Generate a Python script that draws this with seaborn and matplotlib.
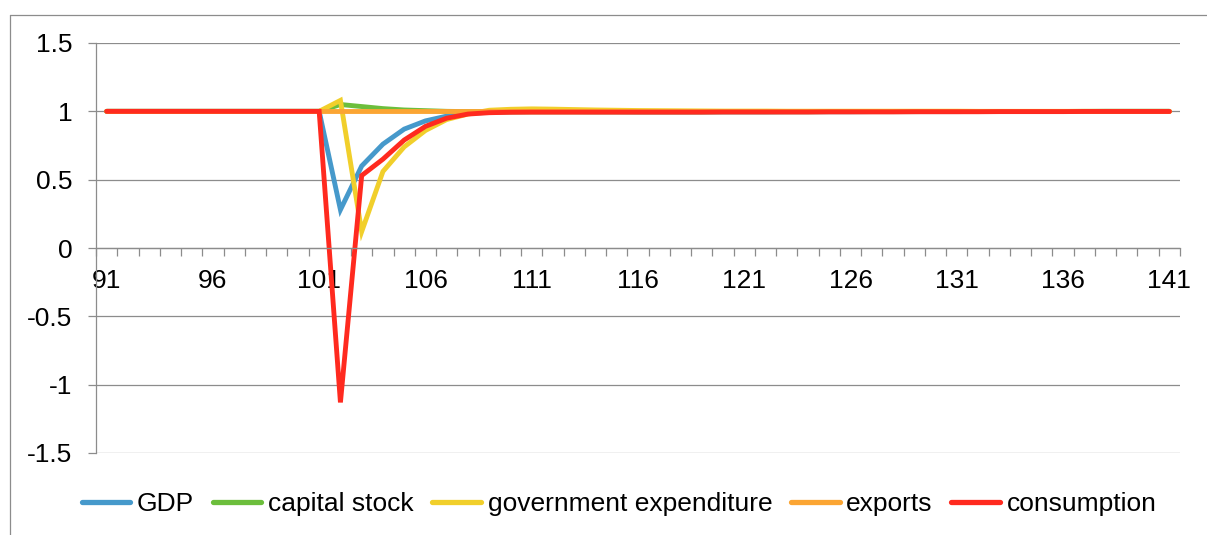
import pandas as pd
import matplotlib
matplotlib.use("Agg")
import matplotlib.pyplot as plt
import seaborn as sns
from matplotlib.lines import Line2D
from matplotlib.ticker import FixedLocator, FuncFormatter

# periods on the category axis
periods = list(range(91, 142))

gdp = [1.0, 1.0, 1.0, 1.0, 1.0, 1.0, 1.0, 1.0, 1.0, 1.0, 1.0,
       0.28, 0.60, 0.76, 0.87, 0.93, 0.965, 0.985, 0.993, 0.997, 0.998,
       0.998, 0.998, 0.997, 0.997, 0.996, 0.996, 0.996, 0.996, 0.996, 0.996,
       0.996, 0.997, 0.997, 0.997, 0.997, 0.998, 0.998, 0.998, 0.998, 0.998,
       0.999, 0.999, 0.999, 0.999, 0.999, 0.999, 1.0, 1.0, 1.0, 1.0]

capital_stock = [1.0, 1.0, 1.0, 1.0, 1.0, 1.0, 1.0, 1.0, 1.0, 1.0, 1.0,
                 1.05, 1.035, 1.02, 1.01, 1.005, 1.0, 0.998, 0.997, 0.996, 0.996,
                 0.996, 0.996, 0.996, 0.996, 0.996, 0.996, 0.996, 0.996, 0.997, 0.997,
                 0.997, 0.997, 0.997, 0.998, 0.998, 0.998, 0.998, 0.998, 0.999, 0.999,
                 0.999, 0.999, 0.999, 0.999, 0.999, 1.0, 1.0, 1.0, 1.0, 1.0]

gov_expenditure = [1.0, 1.0, 1.0, 1.0, 1.0, 1.0, 1.0, 1.0, 1.0, 1.0, 1.0,
                   1.08, 0.12, 0.56, 0.74, 0.86, 0.94, 0.98, 1.008, 1.015, 1.018,
                   1.016, 1.013, 1.01, 1.008, 1.006, 1.005, 1.004, 1.003, 1.002, 1.002,
                   1.002, 1.001, 1.001, 1.001, 1.001, 1.001, 1.001, 1.001, 1.001, 1.001,
                   1.0, 1.0, 1.0, 1.0, 1.0, 1.0, 1.0, 1.0, 1.0, 1.0]

exports = [1.0, 1.0, 1.0, 1.0, 1.0, 1.0, 1.0, 1.0, 1.0, 1.0, 1.0,
           1.0, 1.0, 1.0, 1.0, 1.0, 1.0, 1.0, 1.0, 1.0, 1.0,
           1.0, 1.0, 1.0, 1.0, 1.0, 1.0, 1.0, 1.0, 1.0, 1.0,
           1.0, 1.0, 1.0, 1.0, 1.0, 1.0, 1.0, 1.0, 1.0, 1.0,
           1.0, 1.0, 1.0, 1.0, 1.0, 1.0, 1.0, 1.0, 1.0, 1.0]

consumption = [1.0, 1.0, 1.0, 1.0, 1.0, 1.0, 1.0, 1.0, 1.0, 1.0, 1.0,
               -1.13, 0.53, 0.65, 0.79, 0.89, 0.95, 0.98, 0.99, 0.993, 0.994,
               0.994, 0.994, 0.994, 0.994, 0.994, 0.994, 0.994, 0.994, 0.995, 0.995,
               0.995, 0.995, 0.995, 0.996, 0.996, 0.996, 0.996, 0.997, 0.997, 0.997,
               0.997, 0.998, 0.998, 0.998, 0.998, 0.999, 0.999, 0.999, 0.999, 0.999]

y_ticks = [-1.5, -1, -0.5, 0, 0.5, 1, 1.5]

series_names = ["GDP", "capital stock", "government expenditure", "exports", "consumption"]
colors = ["#4699CB", "#6CBE3C", "#F1CF2B", "#FBA533", "#FF2A1F"]

frames = []
for name, vals in zip(series_names, [gdp, capital_stock, gov_expenditure, exports, consumption]):
    frames.append(pd.DataFrame({"period": periods, "value": vals, "series": name}))
df = pd.concat(frames, ignore_index=True)

sns.set_theme(style="white")
plt.rcParams["font.family"] = ["Liberation Sans", "DejaVu Sans"]

fig = plt.figure(figsize=(12.07, 5.35), dpi=100)
ax = fig.add_axes([96 / 1207, 1 - 453 / 535, (1180 - 96) / 1207, (453 - 43) / 535])

sns.lineplot(data=df, x="period", y="value", hue="series", hue_order=series_names,
             palette=colors, linewidth=3.5, ax=ax, legend=False,
             solid_capstyle="round", solid_joinstyle="miter")

grid_col = "#8C8C8C"
ax.set_xlim(90.5, 141.5)
ax.set_ylim(-1.5, 1.5)
ax.yaxis.set_major_locator(FixedLocator(y_ticks))
ax.yaxis.set_major_formatter(FuncFormatter(lambda v, pos: "%g" % v))
ax.grid(axis="y", color=grid_col, linewidth=0.9)
ax.grid(axis="x", visible=False)
ax.set_axisbelow(True)

for s in ["top", "right"]:
    ax.spines[s].set_visible(False)
ax.spines["left"].set_color(grid_col)
ax.spines["left"].set_linewidth(0.9)
ax.spines["bottom"].set_position(("data", 0))
ax.spines["bottom"].set_color(grid_col)
ax.spines["bottom"].set_linewidth(0.9)

ax.set_xticks(periods[::5])
ax.set_xticklabels([str(p) for p in periods[::5]])
ax.set_xticks([p - 0.5 for p in periods] + [141.5], minor=True)
ax.tick_params(axis="x", which="major", length=0, pad=15, labelsize=19, labelcolor="black")
ax.tick_params(axis="x", which="minor", direction="out", length=6, width=0.9,
               color=grid_col, bottom=True)
ax.tick_params(axis="y", which="major", direction="out", length=6, width=0.9,
               color=grid_col, left=True, pad=11, labelsize=19, labelcolor="black")
ax.set_xlabel("")
ax.set_ylabel("")

# legend at the bottom
handles = [Line2D([0], [0], color=c, linewidth=3.8, solid_capstyle="round") for c in colors]
fig.legend(handles, series_names, loc="center", bbox_to_anchor=(619 / 1207, 1 - 504 / 535),
           ncol=5, frameon=False, fontsize=19, handlelength=1.85, handletextpad=0.25,
           columnspacing=0.7, borderpad=0, labelcolor="black")

# chart area border (Excel style)
fig.add_artist(Line2D([10 / 1207, 10 / 1207], [1 - 15 / 535, 0], transform=fig.transFigure,
                      color=grid_col, linewidth=0.9))
fig.add_artist(Line2D([10 / 1207, 1], [1 - 15 / 535, 1 - 15 / 535], transform=fig.transFigure,
                      color=grid_col, linewidth=0.9))

fig.savefig("out.png", dpi=100, facecolor="white")
